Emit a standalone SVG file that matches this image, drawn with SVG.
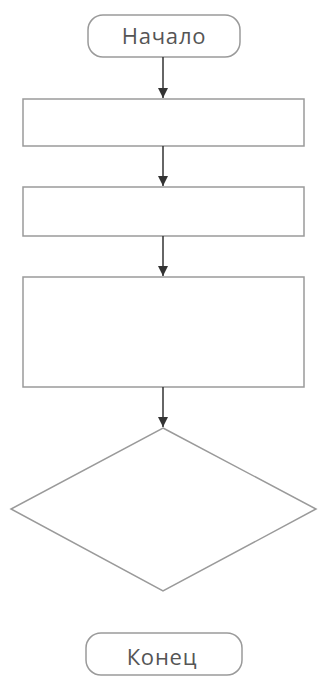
<svg xmlns="http://www.w3.org/2000/svg" width="320" height="676" viewBox="0 0 320 676">
<style>
.shape{fill:#fff;stroke:#9a9a9a;stroke-width:1.5}
.lbl{font-family:"Open Sans","Liberation Sans",sans-serif;font-size:22px;fill:#555;text-anchor:middle;dominant-baseline:central;letter-spacing:0.8px}
.conn{stroke:#333;stroke-width:1.5;fill:none;marker-end:url(#arr)}
</style>
<defs>
<marker id="arr" viewBox="0 0 10 10" refX="10" refY="5" markerWidth="10" markerHeight="10" markerUnits="userSpaceOnUse" orient="auto">
<path d="M0,0 L10,5 L0,10 z" fill="#333"/>
</marker>
</defs>
<rect width="320" height="676" fill="#fff"/>
<g id="start">
<rect class="shape" x="88" y="15" width="152" height="42" rx="15"/>
<text class="lbl" x="164" y="35">Начало</text>
</g>
<g id="box1"><rect class="shape" x="23" y="99" width="281" height="47"/></g>
<g id="box2"><rect class="shape" x="23" y="187" width="281" height="49"/></g>
<g id="box3"><rect class="shape" x="23" y="277" width="281" height="110"/></g>
<g id="decision"><polygon class="shape" points="163,428 316,509 163,591 11,509"/></g>
<g id="end">
<rect class="shape" x="86" y="633" width="156" height="42" rx="15"/>
<text class="lbl" x="162" y="656">Конец</text>
</g>
<g id="connectors">
<line class="conn" x1="163" y1="57" x2="163" y2="98"/>
<line class="conn" x1="163" y1="146" x2="163" y2="186"/>
<line class="conn" x1="163" y1="236" x2="163" y2="276"/>
<line class="conn" x1="163" y1="387" x2="163" y2="427"/>
</g>
</svg>
